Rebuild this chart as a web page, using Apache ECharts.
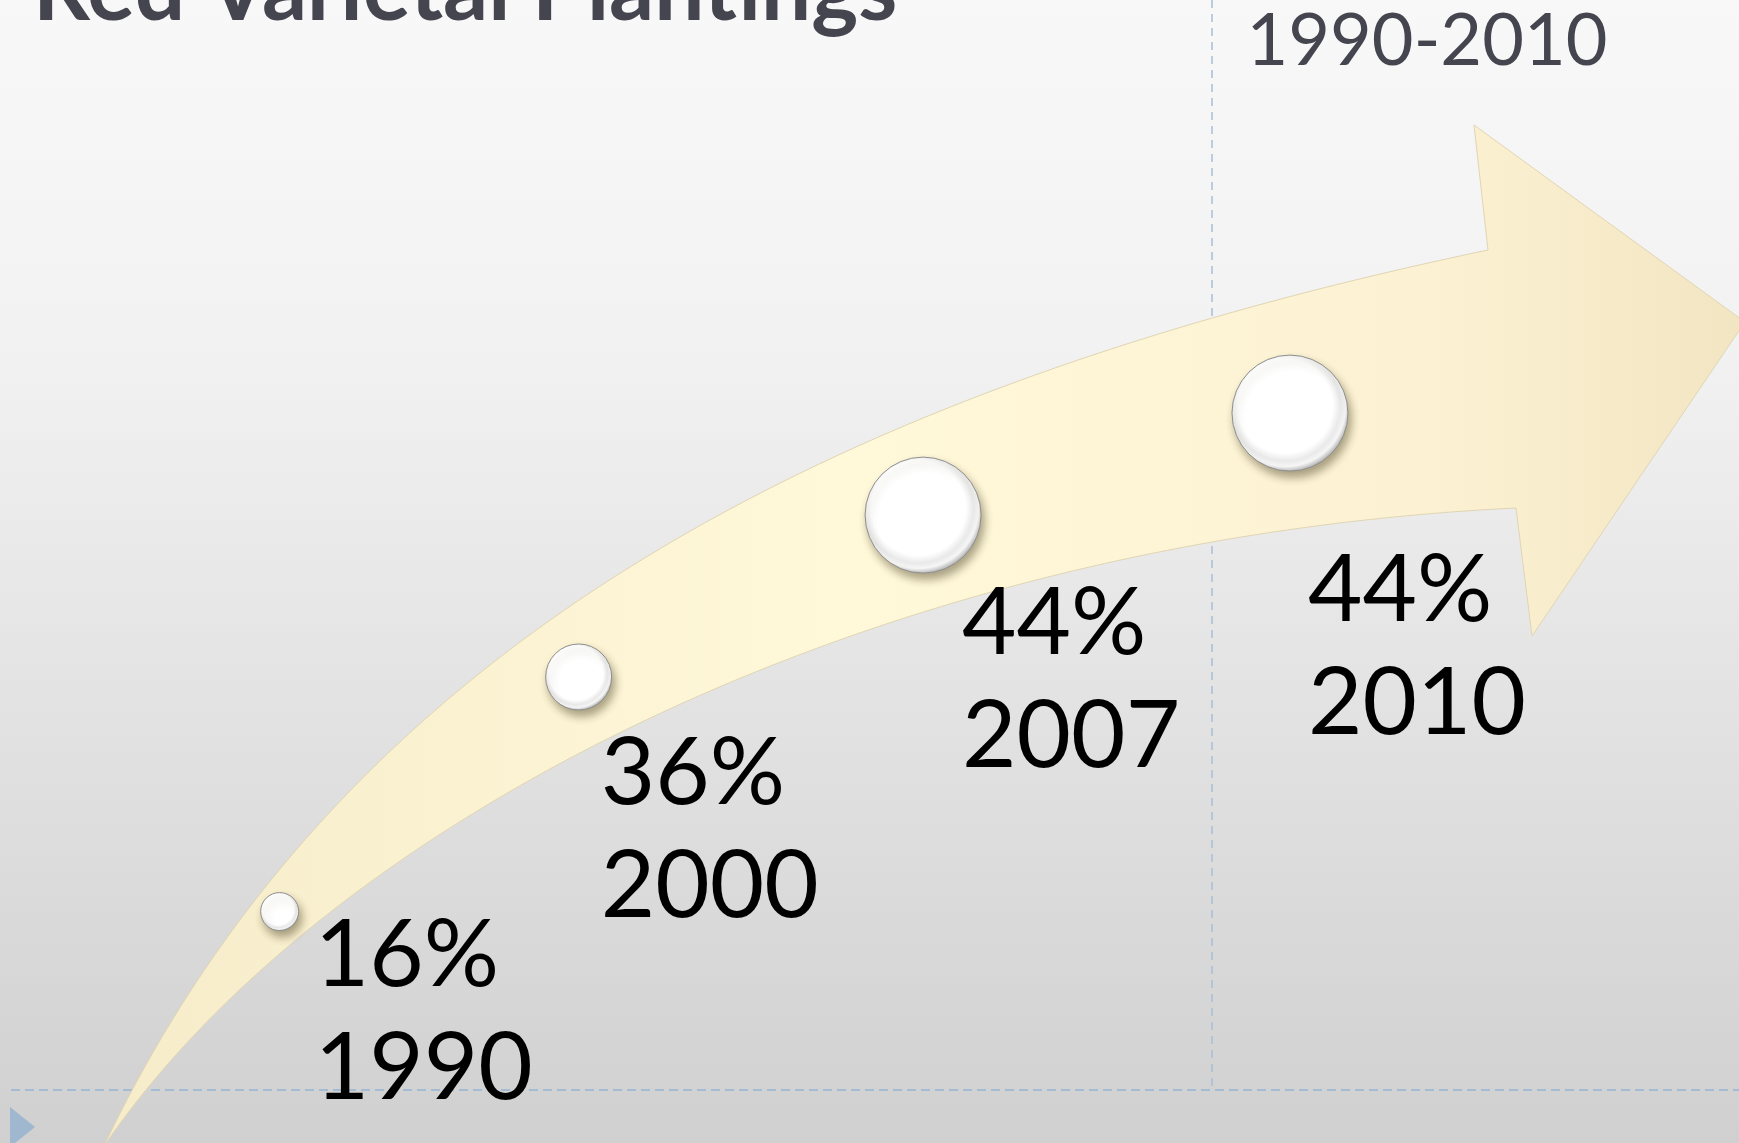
<!DOCTYPE html>
<html>
<head>
<meta charset="utf-8">
<title>Red Varietal Plantings</title>
<script src="https://cdn.jsdelivr.net/npm/echarts@6/dist/echarts.min.js"></script>
<style>
  html, body { margin: 0; padding: 0; }
  #chart { width: 1739px; height: 1143px; }
</style>
</head>
<body>
<div id="chart"></div>
<script>
// ---- data ----
const years = ['1990', '2000', '2007', '2010'];
const shares = [16, 36, 44, 44];
const titleText = 'Red Varietal Plantings';
const periodText = '1990-2010';

// ---- slide layout (slide units = page pixels) ----
const SLIDE_W = 1739, SLIDE_H = 1143;
// cubic outlines of the curved arrow body, tail -> base of the head
const upperEdge = [[104, 1146], [340, 650], [820, 390], [1488, 250]];
const lowerEdge = [[104, 1146], [320, 830], [860, 540], [1516, 508]];
// arrow head: back-upper corner, tip, back-lower corner
const arrowHead = [[1474, 125], [1745, 322], [1532, 636]];
// markers sit on a track between the edges, evenly spaced along it
const TRACK_WEIGHT = 0.5;
const TRACK_START = 0.178, TRACK_STEP = 0.231;
const markerDiameters = [38, 66, 116, 116];
const labelNudges = [[35, -12], [22, 40], [39, 52], [18, 121]];

function cubicPoints(c, steps) {
  const out = [];
  for (let s = 0; s <= steps; s++) {
    const t = s / steps, u = 1 - t;
    const w0 = u * u * u, w1 = 3 * u * u * t, w2 = 3 * u * t * t, w3 = t * t * t;
    out.push([
      w0 * c[0][0] + w1 * c[1][0] + w2 * c[2][0] + w3 * c[3][0],
      w0 * c[0][1] + w1 * c[1][1] + w2 * c[2][1] + w3 * c[3][1]
    ]);
  }
  return out;
}

const upperCurve = cubicPoints(upperEdge, 160);
const lowerCurve = cubicPoints(lowerEdge, 160);

function yAt(curve, x) {
  if (x <= curve[0][0]) return curve[0][1];
  for (let i = 1; i < curve.length; i++) {
    if (curve[i][0] >= x) {
      const a = curve[i - 1], b = curve[i];
      const k = (x - a[0]) / ((b[0] - a[0]) || 1);
      return a[1] + k * (b[1] - a[1]);
    }
  }
  return curve[curve.length - 1][1];
}

// track samples + cumulative length
const track = [];
for (let x = upperEdge[0][0]; x <= 1500; x += 2) {
  const yu = yAt(upperCurve, x), yl = yAt(lowerCurve, x);
  track.push([x, yu + TRACK_WEIGHT * (yl - yu)]);
}
const cum = [0];
for (let i = 1; i < track.length; i++) {
  const dx = track[i][0] - track[i - 1][0], dy = track[i][1] - track[i - 1][1];
  cum.push(cum[i - 1] + Math.sqrt(dx * dx + dy * dy));
}
const trackLen = cum[cum.length - 1];
function pointAtLength(s) {
  for (let i = 1; i < cum.length; i++) {
    if (cum[i] >= s) {
      const k = (s - cum[i - 1]) / (cum[i] - cum[i - 1]);
      return [track[i - 1][0] + k * (track[i][0] - track[i - 1][0]), track[i - 1][1] + k * (track[i][1] - track[i - 1][1])];
    }
  }
  return track[track.length - 1];
}

const markerData = years.map((yr, i) => {
  const p = pointAtLength(trackLen * (TRACK_START + TRACK_STEP * i));
  return {
    value: [p[0], p[1], shares[i]],
    name: yr,
    symbolSize: markerDiameters[i],
    label: { offset: labelNudges[i] }
  };
});

const arrowOutline = upperCurve.concat(arrowHead, lowerCurve.slice().reverse());

const chart = echarts.init(document.getElementById('chart'), null, { renderer: 'canvas' });

const option = {
  animation: false,
  grid: { left: 0, right: 0, top: 0, bottom: 0 },
  xAxis: { type: 'value', min: 0, max: SLIDE_W, show: false },
  yAxis: { type: 'value', min: 0, max: SLIDE_H, inverse: true, show: false },
  graphic: [
    {
      type: 'rect', z: -10, silent: true,
      shape: { x: 0, y: 0, width: SLIDE_W, height: SLIDE_H },
      style: {
        fill: new echarts.graphic.LinearGradient(0, 0, 0, 1, [
          { offset: 0, color: '#f8f8f8' },
          { offset: 0.3, color: '#f2f2f2' },
          { offset: 1, color: '#d0d0d0' }
        ])
      }
    },
    {
      type: 'line', z: -5, silent: true,
      shape: { x1: 1212, y1: 0, x2: 1212, y2: 1088 },
      style: { stroke: '#a8bfd6', lineWidth: 1.5, lineDash: [8, 6] }
    },
    {
      type: 'line', z: -5, silent: true,
      shape: { x1: 11, y1: 1090, x2: SLIDE_W, y2: 1090 },
      style: { stroke: '#a3bcd4', lineWidth: 2, lineDash: [9, 5] }
    },
    {
      type: 'polygon', z: -5, silent: true,
      shape: { points: [[10, 1107], [35, 1127], [10, 1147]] },
      style: { fill: '#9fb7cf' }
    },
    {
      type: 'text', z: 5, silent: true,
      style: {
        text: titleText, x: 33, y: -9,
        font: 'bold 89px Lato, "Open Sans", sans-serif',
        fill: '#45454f', align: 'left', verticalAlign: 'middle',
        textAlign: 'left', textVerticalAlign: 'middle'
      }
    },
    {
      type: 'text', z: 5, silent: true,
      style: {
        text: periodText, x: 1427, y: 42,
        font: '72px Lato, "Open Sans", sans-serif',
        fill: '#45454f', align: 'center', verticalAlign: 'middle',
        textAlign: 'center', textVerticalAlign: 'middle'
      }
    }
  ],
  series: [
    {
      type: 'custom',
      coordinateSystem: 'cartesian2d',
      clip: false,
      silent: true,
      z: 1,
      data: [[0, 0]],
      renderItem: function (params, api) {
        const pts = arrowOutline.map(p => api.coord(p));
        return {
          type: 'polygon',
          shape: { points: pts },
          style: {
            fill: new echarts.graphic.LinearGradient(0, 0, 1, 0, [
              { offset: 0, color: '#f6ecca' },
              { offset: 0.45, color: '#fff8d9' },
              { offset: 0.8, color: '#fcf2d3' },
              { offset: 1, color: '#f2e5c2' }
            ]),
            stroke: '#e0d5b3',
            lineWidth: 1
          }
        };
      }
    },
    {
      type: 'scatter',
      z: 3,
      data: markerData,
      itemStyle: {
        color: new echarts.graphic.RadialGradient(0.46, 0.44, 0.56, [
          { offset: 0, color: '#ffffff' },
          { offset: 0.72, color: '#ffffff' },
          { offset: 0.84, color: '#e9e9e9' },
          { offset: 0.92, color: '#f6f6f6' },
          { offset: 1, color: '#bcbcbc' }
        ]),
        borderColor: '#8e8e8e',
        borderWidth: 1,
        shadowBlur: 8,
        shadowOffsetX: 3,
        shadowOffsetY: 6,
        shadowColor: 'rgba(70, 60, 30, 0.45)',
        opacity: 1
      },
      label: {
        show: true,
        position: 'inside',
        align: 'left',
        verticalAlign: 'top',
        formatter: function (p) {
          return '{v|' + p.value[2] + '%}\n{v|' + p.name + '}';
        },
        rich: {
          v: { fontFamily: 'Lato, "Open Sans", sans-serif', fontSize: 94, lineHeight: 113, color: '#000000' }
        }
      },
      emphasis: { disabled: true }
    }
  ]
};

chart.setOption(option);
</script>
</body>
</html>
